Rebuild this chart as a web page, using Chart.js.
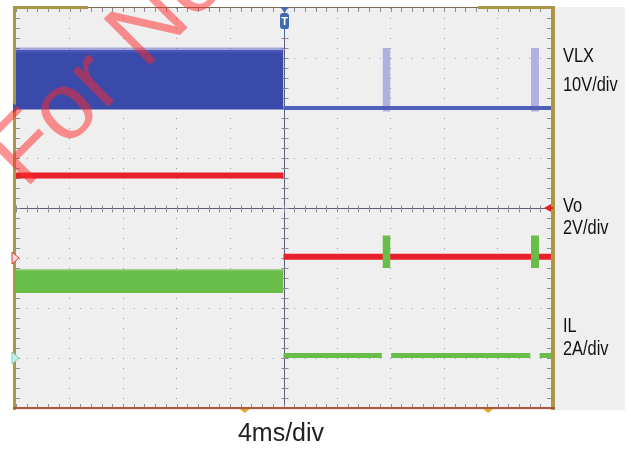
<!DOCTYPE html>
<html>
<head>
<meta charset="utf-8">
<script src="https://cdn.jsdelivr.net/npm/chart.js@4.4.0/dist/chart.umd.min.js"></script>
<style>
  html, body { margin: 0; padding: 0; background: #fff; }
  #wrap { width: 631px; height: 449px; }
</style>
</head>
<body>
<div id="wrap"><canvas id="scope_chart" width="631" height="449"></canvas></div>
<script>
// time axis in ms, 4 ms/div, trigger at 0
var time_range = [-20, 20];
var trigger_time = 0;
var cursor_times = [-2.9, 15.3];

// VLX, 10 V/div, ground marker 2 div above centre
var vlx_scale = 10, vlx_offset = 2;
var vlx_switching_high = 11.6;
var vlx_switching_low = -0.3;
var vlx_after = 0;

// hiccup bursts after the short, ms
var burst_start = [7.4, 18.5];
var burst_end = [8.0, 19.1];
var vlx_burst_high = 12;
var vlx_burst_low = -0.7;

// Vo, 2 V/div, ground marker 1 div below centre
var vo_scale = 2, vo_offset = -1;
var vo_before = 3.3;
var vo_after = 0.05;

// IL, 2 A/div, ground marker 3 div below centre
var il_scale = 2, il_offset = -3;
var il_ripple_high = 3.5;
var il_ripple_low = 2.6;
var il_after = 0.1;
var il_burst_high = 4.9;
var il_burst_low = 3.6;

var channel_names = ['VLX', 'Vo', 'IL'];
var channel_units = ['10V/div', '2V/div', '2A/div'];
var time_label = '4ms/div';

function vlx_div(v) { return vlx_offset + v / vlx_scale; }
function vo_div(v) { return vo_offset + v / vo_scale; }
function il_div(v) { return il_offset + v / il_scale; }

var blue = '#3a4aaa', blue_line = '#5060b8', lavender = 'rgba(150,150,222,0.7)';
var red = '#e8202a', green = '#68be48';

var datasets = [];

// IL after the short, broken where the bursts are
var il_after_points = [{x: trigger_time, y: il_div(il_after)}];
for (var i = 0; i < burst_start.length; i++) {
  il_after_points.push({x: burst_start[i] - 0.05, y: il_div(il_after)});
  il_after_points.push({x: burst_start[i], y: null});
  il_after_points.push({x: burst_end[i] + 0.05, y: il_div(il_after)});
}
il_after_points.push({x: time_range[1], y: il_div(il_after)});
datasets.push({ data: il_after_points, borderColor: green, borderWidth: 5, order: 1 });

for (var i = 0; i < burst_start.length; i++) {
  datasets.push({
    data: [{x: burst_start[i], y: il_div(il_burst_high)}, {x: burst_end[i], y: il_div(il_burst_high)}],
    borderWidth: 0, backgroundColor: green, fill: {value: il_div(il_burst_low)}, order: 2
  });
}

// IL ripple band before the short
datasets.push({
  data: [{x: time_range[0], y: il_div(il_ripple_high)}, {x: trigger_time, y: il_div(il_ripple_high)}],
  borderColor: 'rgba(104,190,72,0.6)', borderWidth: 3,
  backgroundColor: green, fill: {value: il_div(il_ripple_low)}, order: 3
});

// Vo
datasets.push({
  data: [
    {x: time_range[0], y: vo_div(vo_before)}, {x: trigger_time, y: vo_div(vo_before)},
    {x: trigger_time, y: null},
    {x: trigger_time, y: vo_div(vo_after)}, {x: time_range[1], y: vo_div(vo_after)}
  ],
  borderColor: red, borderWidth: 6, order: 5
});

// VLX after the short
datasets.push({
  data: [{x: trigger_time, y: vlx_div(vlx_after)}, {x: time_range[1], y: vlx_div(vlx_after)}],
  borderColor: blue_line, borderWidth: 4, order: 6
});
for (var i = 0; i < burst_start.length; i++) {
  datasets.push({
    data: [{x: burst_start[i], y: vlx_div(vlx_burst_high)}, {x: burst_end[i], y: vlx_div(vlx_burst_high)}],
    borderWidth: 0, backgroundColor: lavender, fill: {value: vlx_div(vlx_burst_low)}, order: 7
  });
}

// VLX switching band before the short
datasets.push({
  data: [{x: time_range[0], y: vlx_div(vlx_switching_high)}, {x: trigger_time, y: vlx_div(vlx_switching_high)}],
  borderColor: 'rgba(90,100,200,0.5)', borderWidth: 5,
  backgroundColor: blue, fill: {value: vlx_div(vlx_switching_low)}, order: 8
});

function triangle(ctx, x1, y1, x2, y2, x3, y3) {
  ctx.beginPath();
  ctx.moveTo(x1, y1); ctx.lineTo(x2, y2); ctx.lineTo(x3, y3);
  ctx.closePath();
}

var scope_frame = {
  id: 'scope_frame',
  beforeDraw: function(chart) {
    var ctx = chart.ctx;
    ctx.save();
    ctx.fillStyle = '#ffffff';
    ctx.fillRect(0, 0, chart.width, chart.height);
    ctx.fillStyle = '#efefef';
    ctx.fillRect(13, 7, 612, 403);
    ctx.restore();
  },
  beforeDatasetsDraw: function(chart) {
    var ctx = chart.ctx, a = chart.chartArea, xs = chart.scales.x, ys = chart.scales.y;
    var cx = Math.round(xs.getPixelForValue(trigger_time)) + 0.5;
    var cy = Math.round(ys.getPixelForValue(0)) + 0.5;
    ctx.save();
    ctx.strokeStyle = '#5c5c7c';
    ctx.lineWidth = 1;
    ctx.beginPath();
    ctx.moveTo(a.left, cy); ctx.lineTo(a.right, cy);
    ctx.moveTo(cx, a.top); ctx.lineTo(cx, a.bottom);
    ctx.stroke();
    ctx.strokeStyle = '#8a8a98';
    ctx.beginPath();
    for (var t = time_range[0]; t <= time_range[1] + 1e-6; t += 0.8) {
      var px = Math.round(xs.getPixelForValue(t)) + 0.5;
      ctx.moveTo(px, cy - 3); ctx.lineTo(px, cy + 4);
      ctx.moveTo(px, a.top); ctx.lineTo(px, a.top + 4);
      ctx.moveTo(px, a.bottom); ctx.lineTo(px, a.bottom - 4);
    }
    for (var d = -4; d <= 4 + 1e-6; d += 0.2) {
      var py = Math.round(ys.getPixelForValue(d)) + 0.5;
      ctx.moveTo(cx - 3, py); ctx.lineTo(cx + 4, py);
      ctx.moveTo(a.left, py); ctx.lineTo(a.left + 4, py);
      ctx.moveTo(a.right, py); ctx.lineTo(a.right - 4, py);
    }
    ctx.stroke();
    ctx.restore();
  },
  afterDraw: function(chart) {
    var ctx = chart.ctx, a = chart.chartArea, xs = chart.scales.x, ys = chart.scales.y;
    var olive = '#aa9644';
    ctx.save();

    // frame
    ctx.fillStyle = '#7a6c50';
    ctx.fillRect(a.left, a.top - 1, a.right - a.left, 1);
    ctx.fillStyle = olive;
    ctx.fillRect(13, 6, 75, 3);
    ctx.fillRect(478, 6, 77, 3);
    ctx.fillRect(13, 7, 3, 403);
    ctx.fillRect(a.right, 7, 4, 403);
    ctx.fillStyle = '#a85a40';
    ctx.fillRect(13, a.bottom - 1, a.right - 13 + 4, 2);

    // trigger marker
    var tx = Math.round(xs.getPixelForValue(trigger_time)) + 0.5;
    ctx.fillStyle = '#3f6cb0';
    triangle(ctx, tx - 4, 7, tx + 4, 7, tx, 13); ctx.fill();
    ctx.beginPath();
    ctx.roundRect(tx - 4.5, 13, 9, 16, 3);
    ctx.fill();
    ctx.fillRect(tx - 0.5, 29, 1, 5);
    ctx.fillStyle = '#ffffff';
    ctx.font = 'bold 11px "Liberation Sans", Arial, sans-serif';
    ctx.textAlign = 'center';
    ctx.textBaseline = 'middle';
    ctx.fillText('T', tx, 22);

    // ground markers
    var gy = ys.getPixelForValue(vlx_offset);
    ctx.fillStyle = '#3a50b0';
    triangle(ctx, 13, gy - 5, 19, gy, 13, gy + 5); ctx.fill();
    gy = ys.getPixelForValue(vo_offset);
    ctx.fillStyle = '#f8d8d8'; ctx.strokeStyle = '#d04040'; ctx.lineWidth = 1;
    triangle(ctx, 12, gy - 6, 19, gy, 12, gy + 6); ctx.fill(); ctx.stroke();
    gy = ys.getPixelForValue(il_offset);
    ctx.fillStyle = '#bff0ea'; ctx.strokeStyle = '#80d0c8';
    triangle(ctx, 12, gy - 6, 19, gy, 12, gy + 6); ctx.fill(); ctx.stroke();

    // trigger level arrow
    var ly = ys.getPixelForValue(0);
    ctx.fillStyle = '#e02020';
    triangle(ctx, a.right - 7, ly, a.right, ly - 4, a.right, ly + 4); ctx.fill();
    ctx.fillRect(a.right - 2, ly - 1, 4, 2);

    // cursors
    ctx.fillStyle = '#e0a830';
    for (var i = 0; i < cursor_times.length; i++) {
      var cxp = xs.getPixelForValue(cursor_times[i]);
      triangle(ctx, cxp - 5, a.bottom + 1, cxp + 5, a.bottom + 1, cxp, a.bottom + 5); ctx.fill();
    }

    // channel labels, narrow face
    ctx.fillStyle = '#111111';
    ctx.textAlign = 'left';
    ctx.textBaseline = 'alphabetic';
    ctx.font = '21px "Liberation Sans", Arial, sans-serif';
    var label_y = [[62, 91], [212, 234], [332, 355]];
    for (var i = 0; i < channel_names.length; i++) {
      for (var j = 0; j < 2; j++) {
        ctx.save();
        ctx.translate(563, label_y[i][j]);
        ctx.scale(0.78, 1);
        ctx.fillText(j == 0 ? channel_names[i] : channel_units[i], 0, 0);
        ctx.restore();
      }
    }
    ctx.fillStyle = '#222222';
    ctx.textAlign = 'center';
    ctx.font = '25px "Liberation Sans", Arial, sans-serif';
    ctx.fillText(time_label, 281, 441);

    // watermark
    ctx.translate(25, 190);
    ctx.rotate(-Math.PI / 4);
    ctx.fillStyle = 'rgba(255,40,40,0.5)';
    ctx.textAlign = 'left';
    ctx.font = '95px "Liberation Sans", Arial, sans-serif';
    ctx.fillText('For Non', 0, 0);
    ctx.restore();
  }
};

new Chart(document.getElementById('scope_chart').getContext('2d'), {
  type: 'line',
  data: { datasets: datasets },
  options: {
    responsive: false,
    animation: false,
    layout: { padding: { left: 16, right: 80, top: 8, bottom: 41 } },
    plugins: { legend: { display: false }, tooltip: { enabled: false } },
    elements: { point: { radius: 0 }, line: { tension: 0 } },
    scales: {
      x: {
        type: 'linear', min: time_range[0], max: time_range[1],
        ticks: { display: false, stepSize: 4 },
        grid: { color: '#9a9aa6', lineWidth: 1, drawTicks: false },
        border: { display: false, dash: [1, 9] }
      },
      y: {
        type: 'linear', min: -4, max: 4,
        ticks: { display: false, stepSize: 1 },
        grid: { color: '#9a9aa6', lineWidth: 1, drawTicks: false },
        border: { display: false, dash: [1, 9.7] }
      }
    }
  },
  plugins: [scope_frame]
});
</script>
</body>
</html>
